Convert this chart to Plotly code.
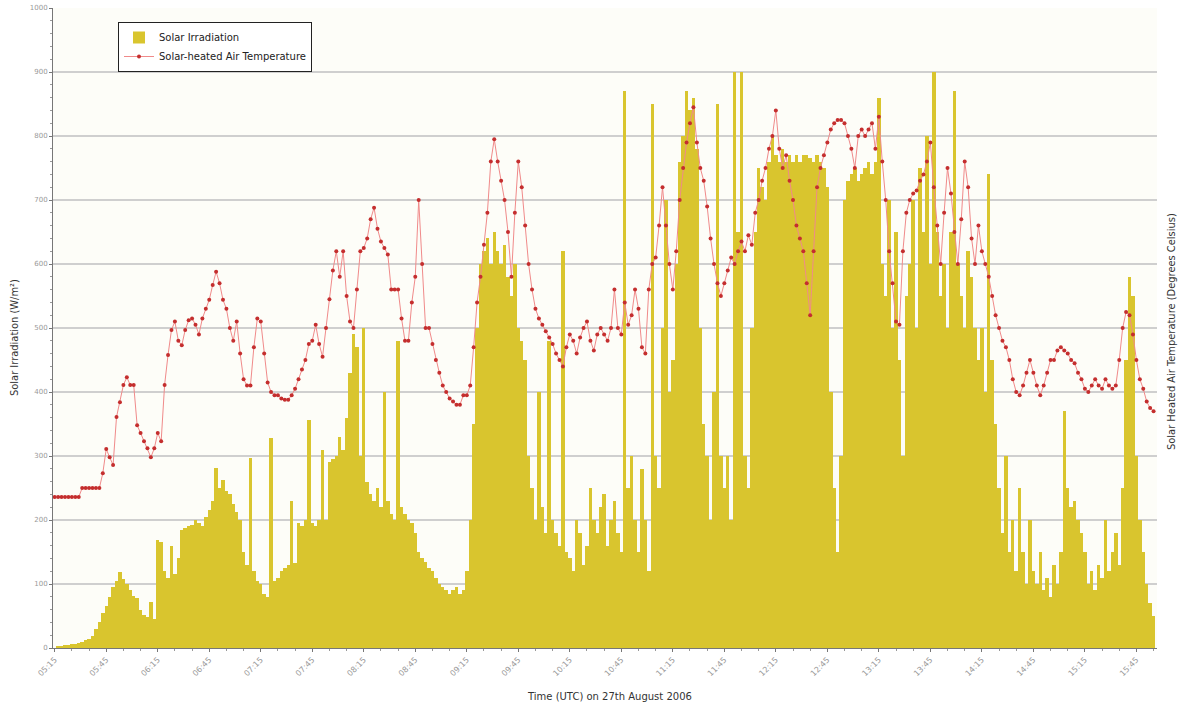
import plotly.graph_objects as go

# sample times: minutes after midnight UTC, every 2 minutes from 05:15
TIME_MIN = list(range(315, 957, 2))

TICK_VALS = list(range(315, 960, 30))
TICK_LABELS = ["05:15", "05:45", "06:15", "06:45", "07:15", "07:45", "08:15", "08:45",
               "09:15", "09:45", "10:15", "10:45", "11:15", "11:45", "12:15", "12:45",
               "13:15", "13:45", "14:15", "14:45", "15:15", "15:45"]

# Solar irradiation (W/m^2), one row per 30 minutes
IRRADIATION = [
    0, 2, 3, 4, 5, 6, 7, 8, 10, 12, 14, 18, 30, 40, 55,
    65, 80, 95, 105, 118, 108, 100, 90, 82, 78, 60, 52, 48, 72, 45,
    168, 165, 120, 110, 160, 115, 140, 185, 188, 190, 192, 200, 195, 190, 205,
    215, 230, 281, 250, 262, 245, 240, 225, 212, 200, 150, 130, 297, 120, 105,
    100, 85, 80, 328, 105, 110, 120, 125, 130, 230, 133, 195, 190, 200, 356,
    195, 190, 200, 310, 200, 290, 295, 300, 330, 310, 360, 430, 490, 470, 300,
    500, 260, 240, 230, 250, 220, 400, 230, 210, 200, 480, 220, 210, 200, 195,
    180, 150, 140, 135, 125, 120, 110, 100, 95, 90, 85, 90, 95, 85, 90,
    120, 200, 350, 500, 600, 620, 640, 600, 650, 620, 600, 630, 580, 550, 600,
    500, 480, 450, 300, 250, 200, 400, 220, 180, 480, 200, 180, 160, 620, 150,
    140, 120, 200, 180, 130, 160, 250, 200, 180, 220, 240, 160, 200, 230, 180,
    150, 870, 250, 300, 200, 150, 280, 200, 120, 850, 300, 250, 500, 700, 400,
    450, 600, 760, 800, 870, 840, 860, 780, 500, 350, 300, 200, 400, 850, 300,
    250, 300, 200, 900, 650, 900, 300, 250, 500, 650, 750, 720, 700, 760, 800,
    770, 760, 780, 760, 770, 760, 770, 760, 770, 770, 765, 760, 770, 760, 750,
    720, 400, 250, 150, 300, 700, 730, 740, 750, 730, 740, 750, 760, 740, 760,
    860, 600, 550, 700, 500, 650, 450, 300, 550, 600, 700, 500, 750, 650, 800,
    600, 900, 650, 550, 600, 500, 650, 870, 600, 550, 500, 620, 580, 500, 450,
    500, 400, 740, 450, 350, 250, 180, 300, 150, 200, 120, 250, 150, 100, 200,
    120, 100, 150, 90, 110, 80, 130, 100, 150, 370, 250, 220, 230, 200, 180,
    150, 100, 120, 90, 130, 110, 200, 120, 150, 180, 130, 250, 450, 580, 550,
    300, 200, 150, 100, 70, 50,
]

# Solar-heated air temperature (degrees Celsius)
TEMPERATURE = [
    23.6, 23.6, 23.6, 23.6, 23.6, 23.6, 23.6, 23.6, 25, 25, 25, 25, 25, 25, 27.3,
    31.1, 29.8, 28.6, 36.1, 38.4, 41.1, 42.3, 41.1, 41.1, 34.8, 33.6, 32.3, 31.2, 29.8, 31.2,
    33.6, 32.3, 41.1, 45.8, 49.7, 51, 48, 47.3, 49.7, 51.2, 51.5, 50.5, 49, 51.5, 53,
    54.4, 56.7, 58.8, 57, 54.4, 53, 50, 48, 51, 46, 42, 41, 41, 47, 51.5,
    51, 46, 41.5, 40, 39.5, 39.5, 39, 38.8, 38.8, 39.5, 40.5, 42, 43.5, 45, 47.5,
    48, 50.5, 47.5, 45.5, 50, 54.5, 59, 62, 58, 62, 55, 51, 50, 56, 62,
    62.5, 64, 67, 68.8, 65.5, 63.5, 62.5, 61.5, 56, 56, 56, 51.5, 48, 48, 54,
    58, 70, 60, 50, 50, 47.5, 45, 43, 41, 40, 39, 38.5, 38, 38, 39.5,
    39.5, 41, 47, 54, 58, 63, 68, 76, 79.5, 76, 73, 70, 65, 58, 68,
    76, 72, 66, 60, 56, 53, 51.5, 50.5, 49.5, 48.5, 47.5, 46, 45, 44, 47,
    49, 48, 46, 48.5, 50, 51, 48, 46.5, 49, 50, 49, 48, 50, 56, 50,
    49, 54, 50.5, 52, 56, 53, 47, 46, 56, 60, 61, 66, 72, 66, 60,
    56, 62, 70, 75, 79, 82, 84.5, 79, 75, 73, 69, 64, 60, 57, 55,
    57, 59, 61, 60, 62, 63.5, 62, 64.5, 63, 68, 70, 73, 75, 78, 80,
    84, 78, 75, 77, 73, 70, 66, 64, 62, 57, 52, 62, 72, 75, 77,
    79, 81, 82, 82.5, 82.5, 82, 80, 78, 75, 80, 81, 80, 81, 82, 78,
    83, 76, 70, 62, 57, 51, 50.5, 62, 68, 70, 71, 71.5, 73, 74, 76,
    79, 72, 66, 60, 68, 75, 71, 65, 60, 67, 76, 72, 64, 60, 66,
    62, 60, 58, 55, 52, 50, 48, 47, 45, 42, 40, 39.5, 41, 43, 45,
    43, 41, 39.5, 41, 43, 45, 45, 46.5, 47, 46.5, 46, 45, 44.5, 43, 42,
    40.5, 40, 41, 42, 41, 40.5, 42, 41, 40.5, 41, 45, 50, 52.5, 52, 49,
    45, 42, 40.5, 38.5, 37.5, 37,
]

n = min(len(TIME_MIN), len(IRRADIATION), len(TEMPERATURE))
TIME_MIN = TIME_MIN[:n]
IRRADIATION = IRRADIATION[:n]
TEMPERATURE = TEMPERATURE[:n]

SIDE_FONT = "Liberation Sans Narrow, DejaVu Sans Condensed, Arial Narrow, sans-serif"
MAIN_FONT = "DejaVu Sans, Verdana, sans-serif"

W, H = 1181, 707
L, R, T, B = 53, 24, 8, 59
pw, ph = W - L - R, H - T - B


def px_ann(text, px, py, font, angle=0):
    return dict(text=text, xref="paper", yref="paper",
                x=(px - L) / pw, y=(H - B - py) / ph,
                xanchor="center", yanchor="middle",
                showarrow=False, textangle=angle, font=font)


fig = go.Figure()
fig.add_trace(go.Bar(
    x=TIME_MIN, y=IRRADIATION, name="Solar Irradiation",
    marker=dict(color="#d9c52e", line=dict(width=0)),
    yaxis="y",
))
fig.add_trace(go.Scatter(
    x=TIME_MIN, y=TEMPERATURE, name="Solar-heated Air Temperature",
    mode="lines+markers",
    line=dict(color="#f08a8a", width=1),
    marker=dict(color="#c42e2e", size=4, line=dict(width=0)),
    yaxis="y2",
))

fig.update_layout(
    width=W, height=H,
    margin=dict(l=L, r=R, t=T, b=B, autoexpand=False),
    paper_bgcolor="white",
    plot_bgcolor="#fdfdf8",
    bargap=0,
    showlegend=True,
    legend=dict(
        x=(118 - L) / pw, y=(H - B - 22) / ph, xanchor="left", yanchor="top",
        bgcolor="white", bordercolor="#222", borderwidth=1,
        font=dict(family=MAIN_FONT, size=10, color="#222"),
        tracegroupgap=0,
    ),
    xaxis=dict(
        range=[314, 957], automargin=False,
        tickvals=TICK_VALS, ticktext=TICK_LABELS,
        tickangle=-45,
        tickfont=dict(family=MAIN_FONT, size=8, color="#999"),
        showgrid=False, zeroline=False,
        showline=True, linecolor="#777", linewidth=1,
        ticks="outside", ticklen=3, tickcolor="#777",
        minor=dict(dtick=10, tick0=315, ticks="outside", ticklen=2, tickcolor="#999"),
    ),
    yaxis=dict(
        range=[0, 1000], automargin=False,
        tickvals=list(range(0, 1001, 100)),
        tickfont=dict(family=MAIN_FONT, size=7, color="#999"),
        showgrid=True, gridcolor="#cfcfcf", gridwidth=1.5,
        zeroline=False,
        showline=True, linecolor="#777", linewidth=1,
        ticks="outside", ticklen=3, tickcolor="#777",
        minor=dict(dtick=20, ticks="outside", ticklen=2, tickcolor="#999"),
    ),
    yaxis2=dict(
        range=[0, 100], overlaying="y", side="right", automargin=False,
        showticklabels=False, showgrid=False, zeroline=False, showline=False,
    ),
    annotations=[
        px_ann("Solar Irradiation (W/m²)", 14, 338,
               dict(family=SIDE_FONT, size=11, color="#333"), -90),
        px_ann("Solar Heated Air Temperature (Degrees Celsius)", 1171, 332,
               dict(family=SIDE_FONT, size=11, color="#333"), -90),
        px_ann("Time (UTC) on 27th August 2006", 609, 696,
               dict(family=MAIN_FONT, size=10, color="#333")),
    ],
)

fig.write_html("out.html",
               config={"displayModeBar": False},
               post_script="document.body.style.margin='0';document.body.style.padding='0';")
